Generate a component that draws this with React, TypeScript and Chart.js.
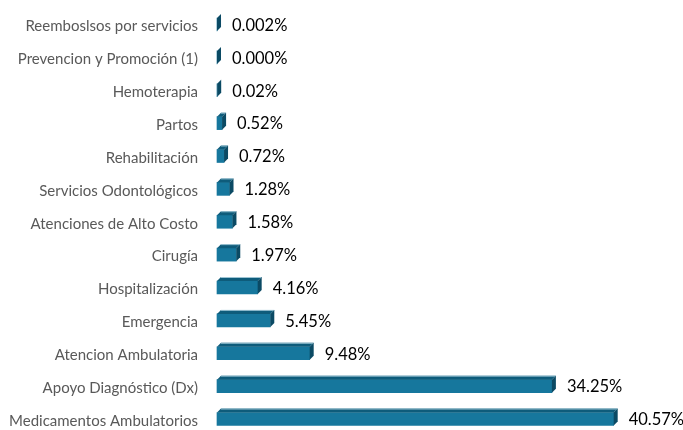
import React, { useEffect, useRef } from "react";
import { Chart, registerables } from "chart.js";
Chart.register(...registerables);

const categories = [
  "Reemboslsos por servicios",
  "Prevencion y Promoción (1)",
  "Hemoterapia",
  "Partos",
  "Rehabilitación",
  "Servicios Odontológicos",
  "Atenciones de Alto Costo",
  "Cirugía",
  "Hospitalización",
  "Emergencia",
  "Atencion Ambulatoria",
  "Apoyo Diagnóstico (Dx)",
  "Medicamentos Ambulatorios",
];
const values = [0.002, 0.0, 0.02, 0.52, 0.72, 1.28, 1.58, 1.97, 4.16, 5.45, 9.48, 34.25, 40.57];
const valueLabels = ["0.002%", "0.000%", "0.02%", "0.52%", "0.72%", "1.28%", "1.58%", "1.97%", "4.16%", "5.45%", "9.48%", "34.25%", "40.57%"];

const FRONT = "#16779d";
const TOP = "#0e5c7b";
const SIDE = "#0b4a64";
const HIGHLIGHT = "#9cc4d4";
const DEPTH = 4;

const box3d = {
  id: "box3d",
  afterDatasetsDraw(chart: any) {
    const ctx = chart.ctx as CanvasRenderingContext2D;
    const meta = chart.getDatasetMeta(0);
    meta.data.forEach((el: any, i: number) => {
      const { x, y, base, height } = el.getProps(["x", "y", "base", "height"], true);
      const top = y - height / 2;
      const bot = y + height / 2;
      const x0 = base;
      const x1 = x;
      ctx.save();
      ctx.fillStyle = TOP;
      ctx.beginPath();
      ctx.moveTo(x0, top);
      ctx.lineTo(x0 + DEPTH, top - DEPTH);
      ctx.lineTo(x1 + DEPTH, top - DEPTH);
      ctx.lineTo(x1, top);
      ctx.closePath();
      ctx.fill();
      if (x1 - x0 > 2) {
        ctx.strokeStyle = HIGHLIGHT;
        ctx.lineWidth = 1;
        ctx.beginPath();
        ctx.moveTo(x0 + DEPTH, top - DEPTH + 0.5);
        ctx.lineTo(x1 + DEPTH, top - DEPTH + 0.5);
        ctx.stroke();
      }
      ctx.fillStyle = SIDE;
      ctx.beginPath();
      ctx.moveTo(x1, top);
      ctx.lineTo(x1 + DEPTH, top - DEPTH);
      ctx.lineTo(x1 + DEPTH, bot - DEPTH);
      ctx.lineTo(x1, bot);
      ctx.closePath();
      ctx.fill();
      ctx.fillStyle = "#000000";
      ctx.font = "16.5px Lato";
      ctx.textAlign = "left";
      ctx.textBaseline = "middle";
      ctx.fillText(valueLabels[i], x1 + DEPTH + 11, y + 1);
      ctx.restore();
    });
  },
};

export default function App() {
  const ref = useRef<HTMLCanvasElement>(null);
  useEffect(() => {
    const chart = new Chart(ref.current!, {
      type: "bar",
      data: {
        labels: categories,
        datasets: [
          {
            data: values,
            backgroundColor: FRONT,
            barThickness: 13,
            clip: false as any,
          },
        ],
      },
      options: {
        indexAxis: "y",
        animation: false,
        responsive: false,
        layout: { padding: { top: 24.5, bottom: 11, left: 0, right: 26 } },
        plugins: { legend: { display: false }, tooltip: { enabled: false } },
        scales: {
          x: { display: false, min: 0, max: 45 },
          y: {
            offset: false,
            grid: { display: false, tickLength: 19 },
            border: { display: false },
            afterFit: (s: any) => {
              s.width = 217;
            },
            ticks: {
              padding: 0,
              labelOffset: 2,
              color: "#595959",
              font: { family: "Lato", size: 15 },
            },
          },
        },
      },
      plugins: [box3d],
    });
    return () => chart.destroy();
  }, []);
  return (
    <canvas
      ref={ref}
      width={683}
      height={430}
      style={{ position: "fixed", left: 0, top: 0, width: 683, height: 430 }}
    />
  );
}
